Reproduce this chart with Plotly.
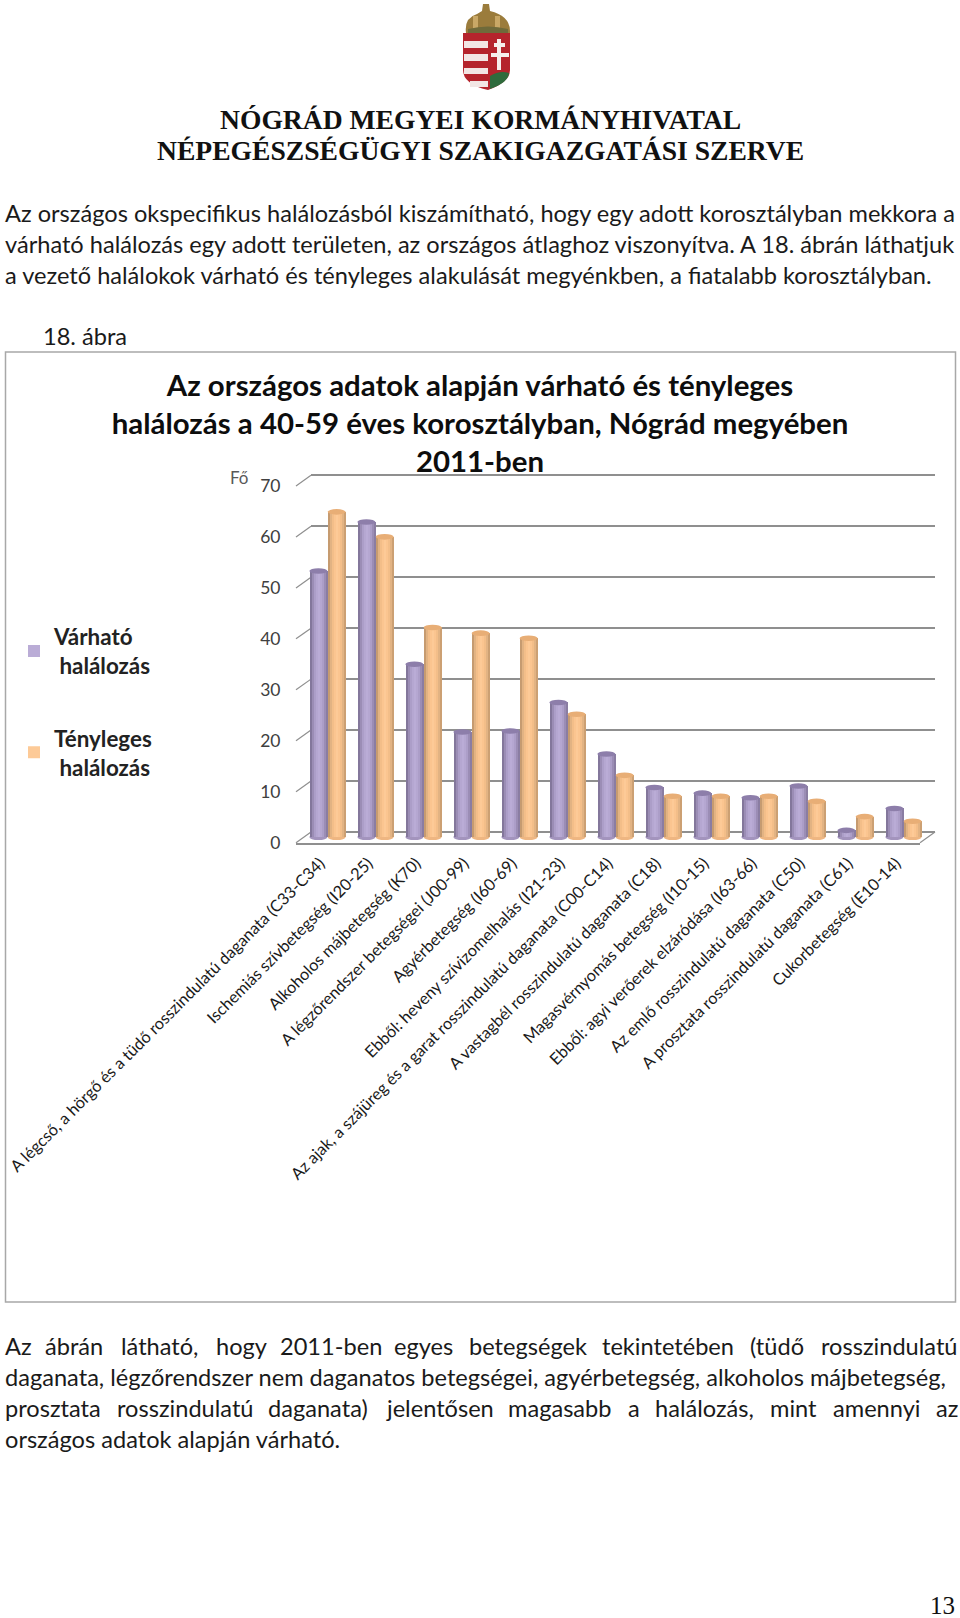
import plotly.graph_objects as go

W, H = 960, 1618

categories = [
    "A légcső, a hörgő és a tüdő rosszindulatú daganata (C33-C34)",
    "Ischemiás szívbetegség (I20-25)",
    "Alkoholos májbetegség (K70)",
    "A légzőrendszer betegségei (J00-99)",
    "Agyérbetegség (I60-69)",
    "Ebből: heveny szívizomelhalás (I21-23)",
    "Az ajak, a szájüreg és a garat rosszindulatú daganata (C00-C14)",
    "A vastagbél rosszindulatú daganata (C18)",
    "Magasvérnyomás betegség (I10-15)",
    "Ebből: agyi verőerek elzáródása (I63-66)",
    "Az emlő rosszindulatú daganata (C50)",
    "A prosztata rosszindulatú daganata (C61)",
    "Cukorbetegség (E10-14)",
]
varhato = [52.2, 61.8, 33.9, 20.6, 20.8, 26.4, 16.3, 9.7, 8.6, 7.7, 10.0, 1.3, 5.6]
tenyleges = [63.8, 58.9, 41.1, 40.0, 39.0, 24.1, 12.1, 8.0, 8.0, 8.0, 7.0, 4.0, 3.1]
y_ticks = [0, 10, 20, 30, 40, 50, 60, 70]

chart_title = ["Az országos adatok alapján várható és tényleges",
               "halálozás a 40-59 éves korosztályban, Nógrád megyében",
               "2011-ben"]
BODY = "Lato"
SERIF = "Liberation Serif"
INK = "#1a1a1a"


def px(x):
    return x / W


def py(y):
    return 1 - y / H


def pth(cmds):
    out = []
    for c in cmds:
        if c == "Z":
            out.append("Z")
        elif c[0] == "Q":
            out.append(f"Q{px(c[1])},{py(c[2])} {px(c[3])},{py(c[4])}")
        else:
            out.append(f"{c[0]}{px(c[1])},{py(c[2])}")
    return " ".join(out)


shapes, annotations = [], []


def note(text, x, y, size, font=BODY, anchor="left", color=INK):
    annotations.append(dict(
        text=text, x=px(x), y=py(y), xref="paper", yref="paper",
        xanchor=anchor, yanchor="middle", showarrow=False,
        font=dict(family=font, size=size, color=color), borderpad=0))


def poly(cmds, fill, layer="above"):
    shapes.append(dict(type="path", path=pth(cmds), xref="paper", yref="paper",
                       fillcolor=fill, line=dict(width=0), layer=layer))


# Coat of arms
poly([("M", 466, 33), ("Q", 464, 18, 477, 14), ("L", 482, 11), ("L", 483, 4), ("L", 489, 4),
      ("L", 490, 11), ("Q", 511, 16, 510, 33), "Z"], "#9b7c3c")
poly([("M", 473, 16), ("L", 478, 16), ("L", 478, 29), ("L", 473, 29), "Z"], "#c9a866")
poly([("M", 495, 16), ("L", 500, 16), ("L", 500, 29), ("L", 495, 29), "Z"], "#c9a866")
poly([("M", 468, 29), ("Q", 488, 24, 508, 29), ("L", 508, 33), ("L", 468, 33), "Z"], "#6f6a3a")
poly([("M", 463, 33), ("L", 510, 33), ("L", 510, 70), ("Q", 510, 82, 488, 90),
      ("Q", 463, 84, 463, 70), "Z"], "#b5242c")
for y0, y1, xr in [(41, 48, 488), (54, 61, 488), (68, 74, 488), (81, 87, 488)]:
    xl = 464 if y0 < 70 else 470
    poly([("M", xl, y0), ("L", xr, y0), ("L", xr, y1), ("L", xl, y1), "Z"], "#f2e6e4")
poly([("M", 490, 89), ("L", 490, 76), ("Q", 500, 70, 509, 73), ("Q", 509, 82, 490, 89), "Z"], "#2f6b3c")
poly([("M", 497, 39), ("L", 501, 39), ("L", 501, 43), ("L", 505, 43), ("L", 505, 47), ("L", 501, 47),
      ("L", 501, 53), ("L", 509, 53), ("L", 509, 57), ("L", 501, 57), ("L", 501, 70), ("L", 497, 70),
      ("L", 497, 57), ("L", 491, 57), ("L", 491, 53), ("L", 497, 53), ("L", 497, 47), ("L", 494, 47),
      ("L", 494, 43), ("L", 497, 43), "Z"], "#f6efec")

# Letterhead and page text
TXT = 23.6
note("<b>NÓGRÁD MEGYEI KORMÁNYHIVATAL</b>", 480, 120, 27.6, SERIF, "center", "#111111")
note("<b>NÉPEGÉSZSÉGÜGYI SZAKIGAZGATÁSI SZERVE</b>", 480, 151, 27.6, SERIF, "center", "#111111")
note("Az országos okspecifikus halálozásból kiszámítható, hogy egy adott korosztályban mekkora a", 4, 213.5, TXT)
note("várható halálozás egy adott területen, az országos átlaghoz viszonyítva. A 18. ábrán láthatjuk", 4, 244, TXT)
note("a vezető halálokok várható és tényleges alakulását megyénkben, a fiatalabb korosztályban.", 4, 274.5, TXT)
note("18. ábra", 42, 336, TXT)
word_lines = [
    (1346, ["Az", "ábrán", "látható,", "hogy", "2011-ben", "egyes", "betegségek", "tekintetében", "(tüdő", "rosszindulatú"],
     [4, 44, 120, 215, 279, 393, 468, 601, 749, 820]),
    (1408, ["prosztata", "rosszindulatú", "daganata)", "jelentősen", "magasabb", "a", "halálozás,", "mint", "amennyi", "az"],
     [4, 116, 267, 385, 507, 627, 654, 769, 832, 935]),
]
for y, words, xs in word_lines:
    for w, x in zip(words, xs):
        note(w, x, y, TXT)
note("daganata, légzőrendszer nem daganatos betegségei, agyérbetegség, alkoholos májbetegség,", 4, 1377, TXT)
note("országos adatok alapján várható.", 4, 1439, TXT)
note("13", 956, 1605, 25, SERIF, "right", "#111111")

# Chart frame
shapes.append(dict(type="rect", xref="paper", yref="paper", x0=px(5.5), x1=px(955.5), y0=py(1302), y1=py(352),
                   line=dict(color="#a8a8a8", width=1.5), fillcolor="rgba(0,0,0,0)", layer="below"))

# Pseudo-3D geometry (pixels)
UNIT = 5.096
BX0, BX1, BY0 = 311, 935, 832      # back wall
FX0, FX1, FY0 = 296, 920, 842.7    # front edge
MX0, MX1, MY0 = 303.5, 927.5, 837  # column plane
LOW, HIGH = -3, 72
GRID = "#8f8f8f"

for v in y_ticks:
    shapes.append(dict(type="line", xref="paper", yref="paper",
                       x0=px(FX0), y0=py(FY0 - v * UNIT), x1=px(BX0), y1=py(BY0 - v * UNIT),
                       line=dict(color=GRID, width=1.2), layer="below"))
shapes.append(dict(type="line", xref="paper", yref="paper", x0=px(FX1), y0=py(FY0), x1=px(BX1), y1=py(BY0),
                   line=dict(color=GRID, width=1.2), layer="below"))

fig = go.Figure()
# Empty traces keep the back-wall and front-edge axes on the page
fig.add_trace(go.Scatter(x=[None], y=[None], xaxis="x", yaxis="y", showlegend=False, hoverinfo="skip"))
fig.add_trace(go.Scatter(x=categories, y=[None] * len(categories), xaxis="x2", yaxis="y2",
                         showlegend=False, hoverinfo="skip"))

BAR_W = 0.375
series = [
    ("Várható<br>\u00a0halálozás", varhato, -0.19,
     ["#83779b", "#9b8db5", "#ac9ec8", "#b5a7d1", "#baacd6", "#b5a7d1", "#ac9ec8", "#9b8db5", "#8a7da2"],
     "#8d7eaa", "#a394bd"),
    ("Tényleges<br>\u00a0halálozás", tenyleges, 0.19,
     ["#c69b70", "#e2b383", "#f3be89", "#fbc590", "#fdca97", "#fbc590", "#f3be89", "#e2b383", "#cca073"],
     "#e8ae76", "#eeb682"),
]
for gi, (name, vals, off, shades, cap_col, base_col) in enumerate(series):
    n = len(shades)
    sw = BAR_W / n
    for i, col in enumerate(shades):
        is_mid = i == n // 2
        fig.add_trace(go.Bar(
            x=categories, y=vals, xaxis="x3", yaxis="y3",
            width=sw + 0.004, offset=off - BAR_W / 2 + i * sw,
            marker=dict(color=col, line=dict(width=0)),
            name=name, legendgroup=f"g{gi}", showlegend=is_mid, hoverinfo="skip" if not is_mid else None,
        ))
    for c, v in enumerate(vals):
        xc = c + off
        shapes.append(dict(type="circle", xref="x3", yref="y3", x0=xc - BAR_W / 2, x1=xc + BAR_W / 2,
                           y0=v - 0.55, y1=v + 0.55, fillcolor=cap_col, line=dict(width=0), layer="above"))
        shapes.append(dict(type="circle", xref="x3", yref="y3", x0=xc - BAR_W / 2, x1=xc + BAR_W / 2,
                           y0=-0.6, y1=0.6, fillcolor=base_col, line=dict(width=0), layer="below"))

note("Fő", 229, 477, 17, BODY, "left", "#595959")

fig.update_layout(
    width=W, height=H, autosize=False,
    margin=dict(l=0, r=0, t=0, b=0, pad=0, autoexpand=False),
    paper_bgcolor="white", plot_bgcolor="rgba(0,0,0,0)",
    barmode="overlay", bargap=0,
    title=dict(text="<br>".join(chart_title), x=0.5, xanchor="center", xref="paper", y=py(396), yref="paper",
               yanchor="top", font=dict(family=BODY, size=29.4, color="#0d0d0d", weight="bold")),
    legend=dict(x=px(14), y=py(615.5), xanchor="left", yanchor="top", bgcolor="rgba(0,0,0,0)",
                font=dict(family=BODY, size=22.4, color="#222222", weight="bold"),
                tracegroupgap=40, itemwidth=30, itemclick=False, itemdoubleclick=False),
    shapes=shapes, annotations=annotations,
    xaxis=dict(domain=[px(BX0), px(BX1)], range=[0, 1], visible=False, anchor="y", automargin=False),
    yaxis=dict(domain=[py(BY0), py(BY0 - 72 * UNIT)], range=[0, 72], anchor="x", tickvals=y_ticks,
               showticklabels=False, showgrid=True, gridcolor=GRID, gridwidth=1.5, zeroline=True,
               zerolinecolor=GRID, zerolinewidth=1.5, showline=False, ticks="", automargin=False),
    xaxis2=dict(domain=[px(FX0), px(FX1)], range=[-0.5, 12.5], anchor="y2", type="category",
                categoryorder="array", categoryarray=categories, tickmode="array", tickvals=categories,
                ticktext=categories, tickangle=-45, ticklabelstandoff=3, ticks="", showgrid=False,
                zeroline=False, showline=True, linecolor=GRID, linewidth=1.5, automargin=False,
                tickfont=dict(family=BODY, size=16.3, color=INK)),
    yaxis2=dict(domain=[py(FY0), py(FY0 - 70 * UNIT)], range=[0, 70], anchor="x2", tickvals=y_ticks, showgrid=False,
                zeroline=False, ticks="outside", ticklen=11, tickcolor="rgba(0,0,0,0)", showline=False,
                tickfont=dict(family=BODY, size=17.5, color="#404040"), automargin=False),
    xaxis3=dict(domain=[px(MX0), px(MX1)], range=[-0.5, 12.5], anchor="y3", type="category",
                categoryorder="array", categoryarray=categories, showticklabels=False, showgrid=False,
                zeroline=False, showline=False, ticks="", automargin=False),
    yaxis3=dict(domain=[py(MY0 - LOW * UNIT), py(MY0 - HIGH * UNIT)], range=[LOW, HIGH], anchor="x3",
                visible=False, showgrid=False, zeroline=False, automargin=False),
)

fig.write_html("out.html", post_script="document.body.style.margin='0';", config=dict(displayModeBar=False))
